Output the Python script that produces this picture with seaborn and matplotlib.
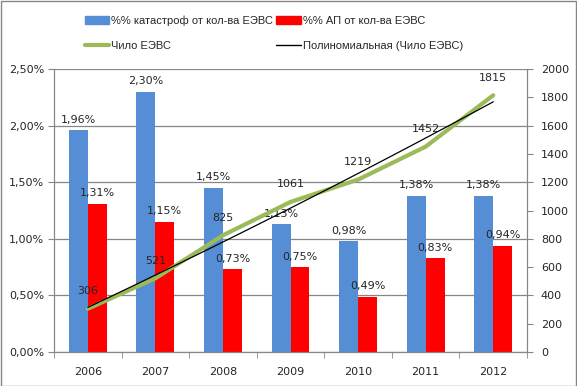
import numpy as np
import pandas as pd
import matplotlib
matplotlib.use('Agg')
import matplotlib.pyplot as plt
import seaborn as sns
from matplotlib.ticker import FuncFormatter, MultipleLocator, FixedLocator
from matplotlib.lines import Line2D
from matplotlib.patches import Patch, Rectangle

# Data
years = ['2006', '2007', '2008', '2009', '2010', '2011', '2012']
pct_disasters = [1.96, 2.30, 1.45, 1.13, 0.98, 1.38, 1.38]
pct_incidents = [1.31, 1.15, 0.73, 0.75, 0.49, 0.83, 0.94]
count_aircraft = [306, 521, 825, 1061, 1219, 1452, 1815]

name_blue = '%% катастроф от кол-ва ЕЭВС'
name_red = '%% АП от кол-ва ЕЭВС'
name_green = 'Чило ЕЭВС'
name_trend = 'Полиномиальная (Чило ЕЭВС)'

blue = '#558ED5'
red = '#FF0000'
green = '#9BBB59'
grey = '#868686'

sns.set_style('white')
plt.rcParams['font.family'] = ['DejaVu Sans']
plt.rcParams['font.size'] = 8

bars = pd.DataFrame({
    'Год': years * 2,
    'Значение': pct_disasters + pct_incidents,
    'Серия': [name_blue] * len(years) + [name_red] * len(years),
})

fig = plt.figure(figsize=(5.77, 3.86), dpi=100)
ax = fig.add_axes([0.0936, 0.088, 0.8198, 0.733])

sns.barplot(data=bars, x='Год', y='Значение', hue='Серия', palette=[blue, red],
            width=0.56, gap=0, saturation=1, ax=ax, legend=False, zorder=2,
            linewidth=0, edgecolor='none')

for cont in ax.containers:
    ax.bar_label(cont, labels=[f'{v:.2f}%'.replace('.', ',') for v in cont.datavalues],
                 padding=4, fontsize=8)

ax.set_ylim(0, 2.5)
ax.set_xlim(-0.5, len(years) - 0.5)
ax.yaxis.set_major_locator(MultipleLocator(0.5))
ax.yaxis.set_major_formatter(FuncFormatter(lambda v, p: f'{v:.2f}%'.replace('.', ',')))
ax.yaxis.grid(True, color=grey, linewidth=0.9, zorder=0)
ax.set_axisbelow(True)
ax.set_xlabel('')
ax.set_ylabel('')
ax.tick_params(axis='y', length=4, color=grey, direction='out', left=True, pad=3)
ax.tick_params(axis='x', length=0, pad=11)
ax.xaxis.set_minor_locator(FixedLocator(np.arange(-0.5, len(years), 1)))
ax.tick_params(axis='x', which='minor', length=4, color=grey, direction='out', bottom=True)
for s in ['left', 'bottom', 'right', 'top']:
    ax.spines[s].set_color(grey)
ax.spines['top'].set_visible(False)

# Secondary axis: count line and polynomial trend
ax2 = ax.twinx()
xpos = np.arange(len(years))
sns.lineplot(x=xpos, y=count_aircraft, color=green, linewidth=3, ax=ax2, zorder=3)
coef = np.polyfit(xpos, count_aircraft, 2)
xs = np.linspace(0, len(years) - 1, 50)
ax2.plot(xs, np.polyval(coef, xs), color='black', linewidth=0.9, zorder=4)
for x, v in zip(xpos, count_aircraft):
    ax2.annotate(str(v), (x, v), xytext=(0, 9), textcoords='offset points',
                 ha='center', va='bottom', fontsize=8)
ax2.set_ylim(0, 2000)
ax2.yaxis.set_major_locator(MultipleLocator(200))
ax2.tick_params(axis='y', length=4, color=grey, direction='out', right=True, pad=6)
for s in ['left', 'bottom', 'right', 'top']:
    ax2.spines[s].set_color(grey)
ax2.spines['top'].set_visible(False)
ax2.set_xlim(-0.5, len(years) - 0.5)

handles = [Patch(color=blue), Line2D([], [], color=green, linewidth=3),
           Patch(color=red), Line2D([], [], color='black', linewidth=1)]
labels = [name_blue, name_green, name_red, name_trend]
fig.legend(handles, labels, ncol=2, loc='upper left', bbox_to_anchor=(0.13, 0.985),
           frameon=False, prop={'family': 'Liberation Sans', 'size': 8},
           handlelength=2.2, handleheight=0.75, handletextpad=0.15,
           columnspacing=0.3, labelspacing=1.3)

fig.patches.append(Rectangle((0.001, 0.001), 0.997, 0.997, transform=fig.transFigure,
                             fill=False, edgecolor=grey, linewidth=1))

fig.savefig('out.png', dpi=100)
